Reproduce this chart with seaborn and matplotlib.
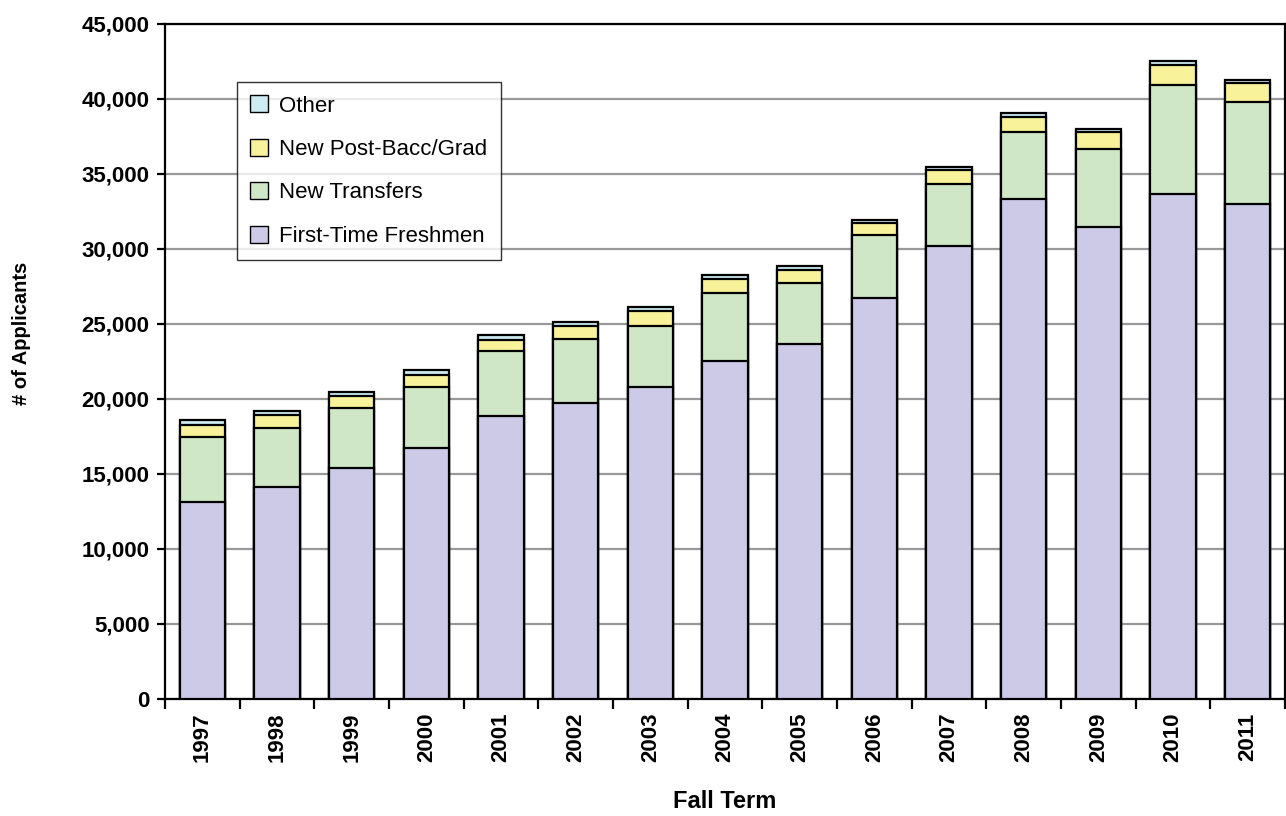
import matplotlib
matplotlib.use("Agg")
import matplotlib.pyplot as plt
import matplotlib.ticker as mticker
from matplotlib.patches import Patch
import seaborn as sns
import pandas as pd
import numpy as np

years = ["1997", "1998", "1999", "2000", "2001", "2002", "2003", "2004",
         "2005", "2006", "2007", "2008", "2009", "2010", "2011"]
freshmen = [13130, 14150, 15380, 16710, 18890, 19710, 20820, 22530,
            23670, 26710, 30180, 33350, 31490, 33640, 33020]
transfers = [4320, 3940, 4000, 4110, 4330, 4270, 4070, 4510,
             4060, 4240, 4180, 4450, 5200, 7310, 6800]
postbacc = [820, 840, 800, 780, 710, 890, 950, 980,
            870, 760, 910, 1000, 1090, 1320, 1220]
other = [360, 290, 270, 310, 310, 260, 290, 270,
         270, 220, 220, 240, 220, 240, 250]

series_names = ["First-Time Freshmen", "New Transfers", "New Post-Bacc/Grad", "Other"]
series_vals = [freshmen, transfers, postbacc, other]
colors = ["#CCCAE6", "#D0E7C7", "#F8F39A", "#CDEBF0"]

sns.set_theme(style="white")
plt.rcParams["font.family"] = ["Liberation Sans", "DejaVu Sans"]
plt.rcParams["text.color"] = "black"
plt.rcParams["axes.labelcolor"] = "black"
plt.rcParams["xtick.color"] = "black"
plt.rcParams["ytick.color"] = "black"

fig = plt.figure(figsize=(12.86, 8.16), dpi=100)
ax = fig.add_axes([0.1283, 0.1434, 0.8709, 0.8272])

cum = np.zeros(len(years))
cums = []
for vals in series_vals:
    cum = cum + np.array(vals)
    cums.append(cum.copy())

# draw from the tallest cumulative level down so the stack shows
for i in range(len(series_vals) - 1, -1, -1):
    d = pd.DataFrame({"year": years, "value": cums[i]})
    sns.barplot(data=d, x="year", y="value", color=colors[i], width=0.61,
                edgecolor="black", linewidth=1.6, saturation=1, ax=ax,
                zorder=3)

ax.set_xlim(-0.5, len(years) - 0.5)
ax.set_ylim(0, 45000)
ax.yaxis.set_major_locator(mticker.MultipleLocator(5000))
ax.yaxis.set_major_formatter(mticker.FuncFormatter(lambda v, p: f"{int(v):,}"))
ax.grid(axis="y", color="#999999", linewidth=1.6, zorder=0)
ax.set_axisbelow(True)

for s in ax.spines.values():
    s.set_color("black")
    s.set_linewidth(1.6)
    s.set_visible(True)

ax.tick_params(axis="y", which="major", direction="out", length=6, width=1.6,
               labelsize=16, left=True, color="black", labelcolor="black", pad=5)
for lab in ax.get_yticklabels():
    lab.set_fontweight("bold")

ax.set_xticks(range(len(years)))
ax.set_xticklabels(years, rotation=90, fontsize=16, fontweight="bold", color="black")
ax.tick_params(axis="x", which="major", length=0, pad=10)
ax.set_xticks(np.arange(-0.5, len(years), 1.0), minor=True)
ax.tick_params(axis="x", which="minor", direction="out", length=7, width=1.6,
               bottom=True, color="black")

ax.set_xlabel("Fall Term", fontsize=17, fontweight="bold", labelpad=20, color="black")
ax.set_ylabel("# of Applicants", fontsize=14.5, fontweight="bold", color="black")
ax.yaxis.set_label_coords((31 - 165) / 1120, (699 - 333) / 675)

handles = [Patch(facecolor=colors[i], edgecolor="black", linewidth=1.0,
                 label=series_names[i]) for i in range(3, -1, -1)]
leg = ax.legend(handles=handles, loc="upper left",
                bbox_to_anchor=((237 - 165) / 1120, (699 - 82) / 675),
                fontsize=16, frameon=True, fancybox=False, shadow=False,
                labelspacing=1.0, handlelength=0.8, handleheight=0.8,
                handletextpad=0.5, borderpad=0.6, borderaxespad=0)
leg.get_frame().set_edgecolor("black")
leg.get_frame().set_linewidth(1.0)
for t in leg.get_texts():
    t.set_color("black")
leg.set_zorder(5)

fig.savefig("out.png", dpi=100)
